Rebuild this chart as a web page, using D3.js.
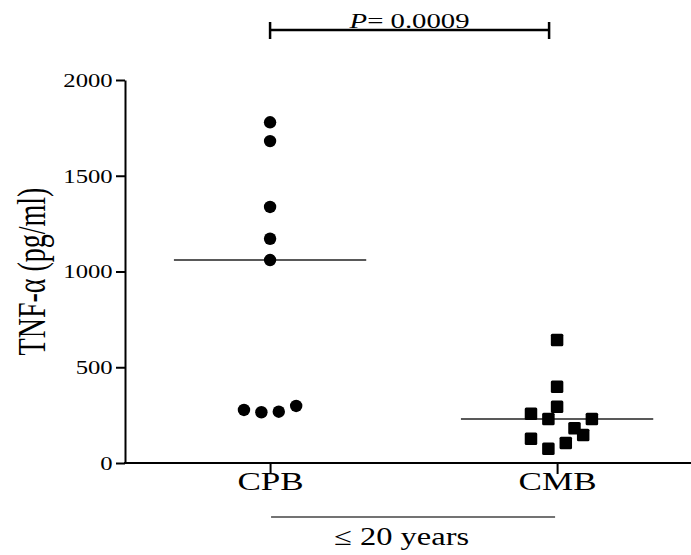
<!DOCTYPE html>
<html>
<head>
<meta charset="utf-8">
<script src="https://cdnjs.cloudflare.com/ajax/libs/d3/7.8.5/d3.min.js"></script>
<style>
  body { margin: 0; background: #fff; }
  svg text { font-family: "Liberation Serif", "Times New Roman", serif; fill: #000; }
</style>
</head>
<body>
<div id="chart"></div>
<script>
// groups on the x axis
var categories = ["CPB", "CMB"];
// TNF-alpha values (pg/ml)
var cpbValues = [1779, 1681, 1337, 1171, 1060, 277, 265, 268, 298];
var cmbValues = [642, 398, 294, 257, 230, 230, 181, 146, 127, 104, 75];
// horizontal slot of each point inside its column (scatter layout)
var cpbSlots = [0, 0, 0, 0, 0, -1.5, -0.5, 0.5, 1.5];
var cmbSlots = [0, 0, 0, -1.5, -0.5, 2, 1, 1.5, -1.5, 0.5, -0.5];
var yTicks = [0, 500, 1000, 1500, 2000];
var pLabel = "0.0009";
var groupLabel = "\u2264 20 years";
var yTitle = "TNF-\u03b1 (pg/ml)";

var W = 691, H = 555;
var mLeft = 125, mRight = 691, mTop = 80, mBottom = 463;
var stretch = 1.37; // text in the figure is wider than plain Times

var svg = d3.select("#chart").append("svg")
	.attr("width", W)
	.attr("height", H);

var x = d3.scalePoint()
	.domain(categories)
	.range([mLeft, mRight])
	.padding(0.486)
	.align(0.52);

var y = d3.scaleLinear()
	.domain([0, 2000])
	.range([mBottom, mTop]);

var slot = d3.scaleLinear().domain([0, 1]).range([0, 17.4]);

// y axis
var yAxis = d3.axisLeft(y)
	.tickValues(yTicks)
	.tickSize(9)
	.tickSizeOuter(0)
	.tickFormat(d3.format("d"));

var gy = svg.append("g")
	.attr("transform", "translate(" + mLeft + ",0)")
	.call(yAxis);
gy.select(".domain").attr("stroke-width", 2).attr("stroke", "#000");
gy.selectAll(".tick line").attr("stroke-width", 2).attr("stroke", "#000");
gy.selectAll(".tick text")
	.attr("font-size", 19)
	.attr("font-family", "Liberation Serif")
	.attr("fill", "#000")
	.attr("x", -13 / stretch)
	.attr("dy", "0.34em")
	.attr("transform", "scale(" + 1.3 + ",1)");

// x axis
var xAxis = d3.axisBottom(x)
	.tickSize(11)
	.tickSizeOuter(0)
	.tickPadding(6);

var gx = svg.append("g")
	.attr("transform", "translate(0," + mBottom + ")")
	.call(xAxis);
gx.select(".domain").remove();
gx.append("line")
	.attr("x1", mLeft - 1).attr("x2", mRight)
	.attr("stroke", "#000").attr("stroke-width", 2);
gx.selectAll(".tick line").attr("stroke-width", 2).attr("stroke", "#000");
gx.selectAll(".tick text")
	.attr("font-size", 26)
	.attr("font-family", "Liberation Serif")
	.attr("fill", "#000")
	.attr("y", 0)
	.attr("dy", 0)
	.attr("transform", "translate(0,27) scale(1.35,1)");

// y title
svg.append("text")
	.attr("transform", "translate(45," + ((mTop + mBottom) / 2) + ") rotate(-90) scale(1,1.4)")
	.attr("text-anchor", "middle")
	.attr("font-size", 28)
	.text(yTitle);

function pts(cat, vals, slots) {
	return vals.map(function(v, i) { return { cat: cat, value: v, slot: slots[i] }; });
}
var cpb = pts("CPB", cpbValues, cpbSlots);
var cmb = pts("CMB", cmbValues, cmbSlots);

// median lines
var half = x.step() * 0.335;
[[ "CPB", cpbValues ], [ "CMB", cmbValues ]].forEach(function(g) {
	var m = d3.median(g[1]);
	svg.append("line")
		.attr("x1", x(g[0]) - half).attr("x2", x(g[0]) + half)
		.attr("y1", y(m)).attr("y2", y(m))
		.attr("stroke", "#222").attr("stroke-width", 1.5);
});

// CPB circles
svg.selectAll(".dot")
	.data(cpb)
	.enter().append("circle")
	.attr("class", "dot")
	.attr("cx", function(d) { return x(d.cat) + slot(d.slot); })
	.attr("cy", function(d) { return y(d.value); })
	.attr("r", 6.2)
	.attr("fill", "#000");

// CMB squares
var s = 12.5;
svg.selectAll(".sq")
	.data(cmb)
	.enter().append("rect")
	.attr("class", "sq")
	.attr("x", function(d) { return x(d.cat) + slot(d.slot) - s / 2; })
	.attr("y", function(d) { return y(d.value) - s / 2; })
	.attr("width", s)
	.attr("height", s)
	.attr("rx", 1.5)
	.attr("fill", "#000");

// significance bracket
var bx1 = x("CPB"), bx2 = x("CMB") - 8, by = 30;
var br = svg.append("g").attr("stroke", "#000").attr("stroke-width", 2.5);
br.append("line").attr("x1", bx1).attr("x2", bx2).attr("y1", by).attr("y2", by);
br.append("line").attr("x1", bx1).attr("x2", bx1).attr("y1", by - 8).attr("y2", by + 9);
br.append("line").attr("x1", bx2).attr("x2", bx2).attr("y1", by - 8).attr("y2", by + 9);

var pt = svg.append("text")
	.attr("transform", "translate(" + ((bx1 + bx2) / 2) + ",28) scale(" + stretch + ",1)")
	.attr("text-anchor", "middle")
	.attr("font-size", 21);
pt.append("tspan").attr("font-style", "italic").text("P");
pt.append("tspan").text("= " + pLabel);

// group line and label
svg.append("line")
	.attr("x1", x("CPB") + 1).attr("x2", x("CMB") - 2)
	.attr("y1", 517).attr("y2", 517)
	.attr("stroke", "#444").attr("stroke-width", 1.5);

svg.append("text")
	.attr("transform", "translate(" + ((x("CPB") + x("CMB")) / 2 - 12) + ",545) scale(1.3,1)")
	.attr("text-anchor", "middle")
	.attr("font-size", 25)
	.text(groupLabel);
</script>
</body>
</html>
